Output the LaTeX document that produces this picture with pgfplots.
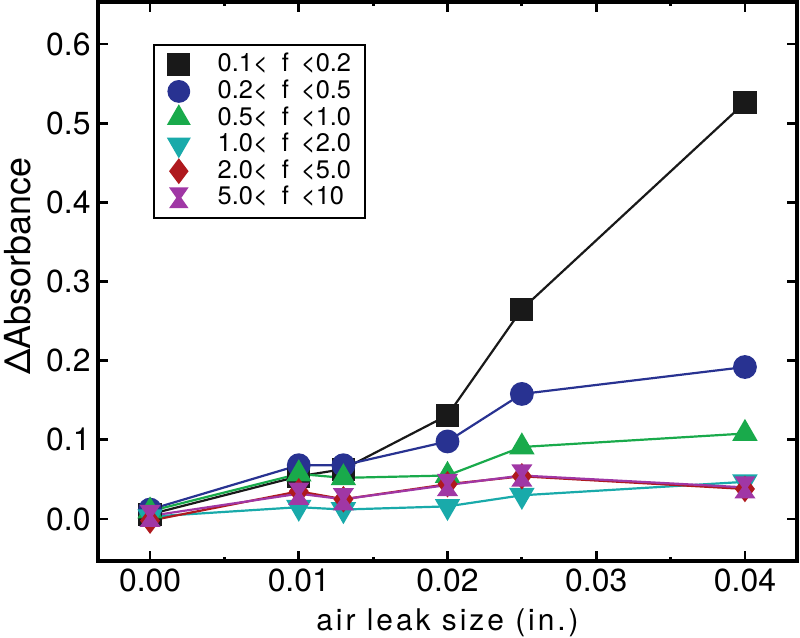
\documentclass[border=0pt]{standalone}
\usepackage{fontspec}
\setmainfont{TeX Gyre Heros}
\usepackage{pgfplots}
\pgfplotsset{compat=1.18}
\definecolor{cblack}{RGB}{25,25,25}
\definecolor{cblue}{RGB}{40,50,145}
\definecolor{cgreen}{RGB}{25,170,75}
\definecolor{ccyan}{RGB}{25,170,170}
\definecolor{cred}{RGB}{175,25,30}
\definecolor{cmag}{RGB}{160,55,165}
\pgfdeclareplotmark{hourglass*}{%
 \pgfpathmoveto{\pgfqpoint{-0.85\pgfplotmarksize}{\pgfplotmarksize}}%
 \pgfpathlineto{\pgfqpoint{0.85\pgfplotmarksize}{\pgfplotmarksize}}%
 \pgfpathlineto{\pgfqpoint{0.15\pgfplotmarksize}{0pt}}%
 \pgfpathlineto{\pgfqpoint{0.85\pgfplotmarksize}{-\pgfplotmarksize}}%
 \pgfpathlineto{\pgfqpoint{-0.85\pgfplotmarksize}{-\pgfplotmarksize}}%
 \pgfpathlineto{\pgfqpoint{-0.15\pgfplotmarksize}{0pt}}%
 \pgfpathclose
 \pgfusepathqfillstroke}
\newcommand{\legtxt}[2]{#1<\hspace{14bp}f\hspace{12bp}<#2\hspace{10bp}}
\begin{document}
\begin{tikzpicture}
\begin{axis}[
  name=ax,
  scale only axis,
  width=699bp, height=559bp,
  xmin=-0.0035, xmax=0.0435,
  ymin=-0.053, ymax=0.653,
  xtick={0,0.01,0.02,0.03,0.04},
  ytick={0,0.1,0.2,0.3,0.4,0.5,0.6},
  minor x tick num=1,
  tick align=inside,
  major tick length=10bp,
  minor tick length=4bp,
  axis line style={line width=3.2bp},
  every tick/.style={line width=2.8bp, black},
  scaled ticks=false,
  xticklabel={\fontsize{32}{38}\selectfont\pgfmathprintnumber[assume math mode=true,fixed,fixed zerofill,precision=2]{\tick}},
  yticklabel={\fontsize{32}{38}\selectfont\pgfmathprintnumber[assume math mode=true,fixed,fixed zerofill,precision=1]{\tick}},
  xticklabel style={yshift=-4bp},
  yticklabel style={xshift=-4bp},
  xlabel={\fontsize{30}{36}\selectfont\addfontfeature{LetterSpace=10}air leak size (in.)},
  ylabel={\fontsize{36}{42}\selectfont ΔAbsorbance},
  xlabel style={inner sep=0pt, yshift=-14bp},
  ylabel style={inner sep=0pt, at={(ticklabel cs:0.527)}, yshift=12bp},
  legend style={at={(rel axis cs:0.0787,0.925)}, anchor=north west,
    draw=black, line width=1.8bp, inner xsep=12bp, inner ysep=7bp,
    font=\fontsize{25.5}{30}\selectfont, row sep=0.6bp,
    nodes={inner sep=2bp, text height=18bp, text depth=4bp},
    cells={anchor=west}},
  legend image code/.code={\path (-12bp,0bp) (36bp,0bp); \draw[mark repeat=2,mark phase=2,#1] plot coordinates {(-10bp,0bp)(0bp,0bp)(10bp,0bp)};},
]
\addlegendimage{only marks, mark=square*, cblack, mark size=10.5bp}
\addlegendentry{\legtxt{0.1}{0.2}}
\addlegendimage{only marks, mark=*, cblue, mark size=10.5bp}
\addlegendentry{\legtxt{0.2}{0.5}}
\addlegendimage{only marks, mark=triangle*, cgreen, mark size=12bp}
\addlegendentry{\legtxt{0.5}{1.0}}
\addlegendimage{only marks, mark=triangle*, ccyan, mark size=12bp, mark options={rotate=180}}
\addlegendentry{\legtxt{1.0}{2.0}}
\addlegendimage{only marks, mark=diamond*, cred, mark size=11.5bp}
\addlegendentry{\legtxt{2.0}{5.0}}
\addlegendimage{only marks, mark=hourglass*, cmag, mark size=9.5bp}
\addlegendentry{\legtxt{5.0}{10}}

\addplot[forget plot, cblack, line width=2.2bp, mark=square*, mark size=10.5bp] coordinates {
(0,0.006) (0.01,0.054) (0.013,0.063) (0.02,0.131) (0.025,0.265) (0.04,0.526)};
\addplot[forget plot, cblue, line width=2.2bp, mark=*, mark size=10.8bp] coordinates {
(0,0.012) (0.01,0.068) (0.013,0.068) (0.02,0.098) (0.025,0.158) (0.04,0.192)};
\addplot[forget plot, cgreen, line width=2.2bp, mark=triangle*, mark size=12.5bp] coordinates {
(0,0.010) (0.01,0.057) (0.013,0.052) (0.02,0.055) (0.025,0.091) (0.04,0.108)};
\addplot[forget plot, ccyan, line width=2.2bp, mark=triangle*, mark size=12.5bp, mark options={rotate=180}] coordinates {
(0,0.003) (0.01,0.015) (0.013,0.012) (0.02,0.016) (0.025,0.030) (0.04,0.047)};
\addplot[forget plot, cred, line width=2.2bp, mark=diamond*, mark size=11.5bp] coordinates {
(0,-0.002) (0.01,0.035) (0.013,0.025) (0.02,0.044) (0.025,0.054) (0.04,0.038)};
\addplot[forget plot, cmag, line width=2.2bp, mark=hourglass*, mark size=10bp] coordinates {
(0,0.004) (0.01,0.032) (0.013,0.025) (0.02,0.043) (0.025,0.055) (0.04,0.040)};
\end{axis}
\path (ax.south west) ++(-98bp,-76bp);
\path (ax.north east) ++(3bp,2bp);
\end{tikzpicture}
\end{document}
